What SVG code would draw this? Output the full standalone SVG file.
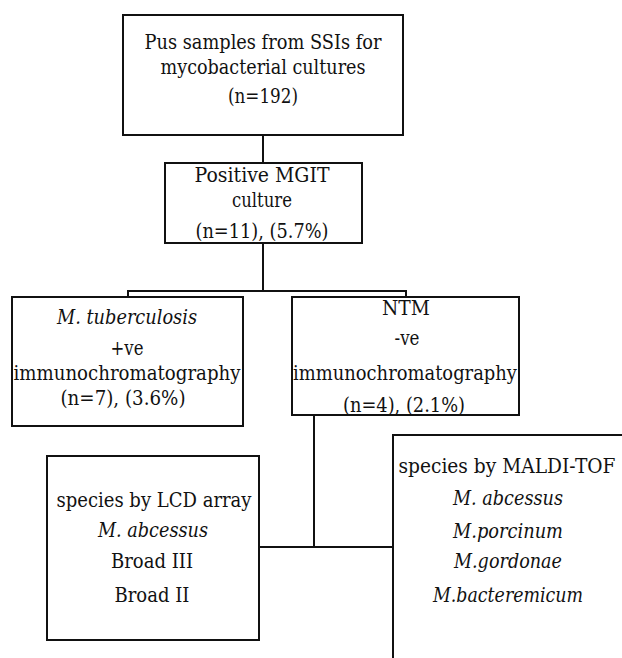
<svg xmlns="http://www.w3.org/2000/svg" width="622" height="658" viewBox="0 0 622 658">
<style>
.box{fill:#fff;stroke:#111;stroke-width:2}
.ln{fill:none;stroke:#111;stroke-width:2}
.it{font-style:italic}
text{lengthAdjust:spacingAndGlyphs}
</style>
<rect width="622" height="658" fill="#fff"/>
<g id="connectors">
<line class="ln" x1="263" y1="135" x2="263" y2="163"/>
<line class="ln" x1="263" y1="243" x2="263" y2="291"/>
<polyline class="ln" points="128,297 128,291 406,291 406,297"/>
<line class="ln" x1="314" y1="415" x2="314" y2="547"/>
<line class="ln" x1="259" y1="547" x2="393" y2="547"/>
</g>
<g font-family="DejaVu Serif, Liberation Serif, serif" font-size="20" fill="#111" text-anchor="middle">
<g id="n1">
<rect class="box" x="123" y="15" width="280" height="120"/>
<text x="263" y="49" textLength="237" lengthAdjust="spacingAndGlyphs">Pus samples from SSIs for</text>
<text x="263" y="74" textLength="205" lengthAdjust="spacingAndGlyphs">mycobacterial cultures</text>
<text x="263" y="103" textLength="70" lengthAdjust="spacingAndGlyphs">(n=192)</text>
</g>
<g id="n2">
<rect class="box" x="165" y="163" width="197" height="80"/>
<text x="262" y="182" textLength="135" lengthAdjust="spacingAndGlyphs">Positive MGIT</text>
<text x="262" y="207" textLength="60" lengthAdjust="spacingAndGlyphs">culture</text>
<text x="262" y="238" textLength="133" lengthAdjust="spacingAndGlyphs">(n=11), (5.7%)</text>
</g>
<g id="n3">
<rect class="box" x="12" y="297" width="231" height="129"/>
<text class="it" x="127" y="324" textLength="140" lengthAdjust="spacingAndGlyphs">M. tuberculosis</text>
<text x="127" y="355" textLength="33" lengthAdjust="spacingAndGlyphs">+ve</text>
<text x="127" y="380" textLength="227" lengthAdjust="spacingAndGlyphs">immunochromatography</text>
<text x="123" y="405" textLength="125" lengthAdjust="spacingAndGlyphs">(n=7), (3.6%)</text>
</g>
<g id="n4">
<rect class="box" x="292" y="297" width="227" height="118"/>
<text x="406" y="315" textLength="48" lengthAdjust="spacingAndGlyphs">NTM</text>
<text x="407" y="345" textLength="25" lengthAdjust="spacingAndGlyphs">-ve</text>
<text x="405" y="380" textLength="224" lengthAdjust="spacingAndGlyphs">immunochromatography</text>
<text x="404" y="412" textLength="122" lengthAdjust="spacingAndGlyphs">(n=4), (2.1%)</text>
</g>
<g id="n5">
<rect class="box" x="47" y="456" width="212" height="184"/>
<text x="154" y="507" textLength="195" lengthAdjust="spacingAndGlyphs">species by LCD array</text>
<text class="it" x="153" y="537" textLength="110" lengthAdjust="spacingAndGlyphs">M. abcessus</text>
<text x="152" y="568" textLength="82" lengthAdjust="spacingAndGlyphs">Broad III</text>
<text x="152" y="602" textLength="75" lengthAdjust="spacingAndGlyphs">Broad II</text>
</g>
<g id="n6">
<rect class="box" x="393" y="435" width="240" height="240"/>
<text x="507" y="473" textLength="217" lengthAdjust="spacingAndGlyphs">species by MALDI-TOF</text>
<text class="it" x="508" y="505" textLength="110" lengthAdjust="spacingAndGlyphs">M. abcessus</text>
<text class="it" x="508" y="538" textLength="110" lengthAdjust="spacingAndGlyphs">M.porcinum</text>
<text class="it" x="508" y="568" textLength="108" lengthAdjust="spacingAndGlyphs">M.gordonae</text>
<text class="it" x="508" y="602" textLength="150" lengthAdjust="spacingAndGlyphs">M.bacteremicum</text>
</g>
</g>
</svg>
